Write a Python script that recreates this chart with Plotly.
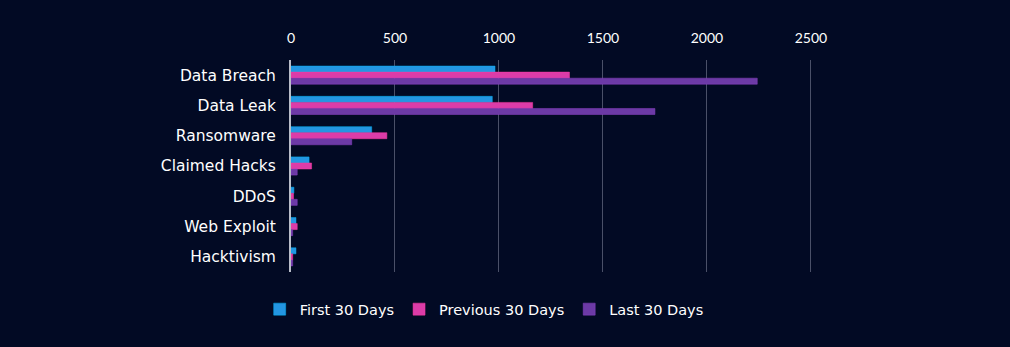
import plotly.graph_objects as go

categories = ["Data Breach", "Data Leak", "Ransomware", "Claimed Hacks", "DDoS", "Web Exploit", "Hacktivism"]
first_30 = [981, 968, 388, 87, 14, 24, 24]
previous_30 = [1339, 1162, 461, 99, 12, 30, 8]
last_30 = [2242, 1750, 292, 30, 30, 8, 8]
tick_vals = [0, 500, 1000, 1500, 2000, 2500]

BG = "#020a24"
FONT = "'DejaVu Sans', sans-serif"

fig = go.Figure()
series = [
    ("First 30 Days", first_30, "#2496e2", "#00b0f0"),
    ("Previous 30 Days", previous_30, "#dc3ca8", "#ff3aa0"),
    ("Last 30 Days", last_30, "#6c3aa6", "#8a40c4"),
]
for name, vals, col, lcol in series:
    fig.add_trace(go.Bar(
        y=categories, x=vals, name=name, orientation="h",
        marker=dict(color=col, line=dict(color=lcol, width=0.5)),
    ))

fig.update_layout(
    width=1010, height=347,
    paper_bgcolor=BG, plot_bgcolor=BG,
    margin=dict(l=291, r=197, t=60, b=75),
    barmode="group", bargap=0.4, bargroupgap=0.0,
    font=dict(family=FONT, color="white", size=15),
    showlegend=True,
    legend=dict(orientation="h", x=-0.06, xanchor="left", y=-0.1, yanchor="top",
                font=dict(size=14.5, color="white", family=FONT), bgcolor="rgba(0,0,0,0)",
                itemwidth=30, tracegroupgap=0),
    xaxis=dict(side="top", range=[0, 2510], tickvals=tick_vals,
               showgrid=True, gridcolor="#4a5068", gridwidth=1,
               zeroline=False, showline=False,
               tickfont=dict(size=14, color="white", family="Lato, sans-serif"),
               ticks="outside", ticklen=10, tickcolor=BG),
    yaxis=dict(autorange="reversed", showgrid=False, zeroline=False,
               showline=True, linecolor="#b8bcc8", linewidth=2,
               tickfont=dict(size=15.5, color="white"),
               ticks="outside", ticklen=10, tickcolor=BG),
)

fig.write_html("out.html")
